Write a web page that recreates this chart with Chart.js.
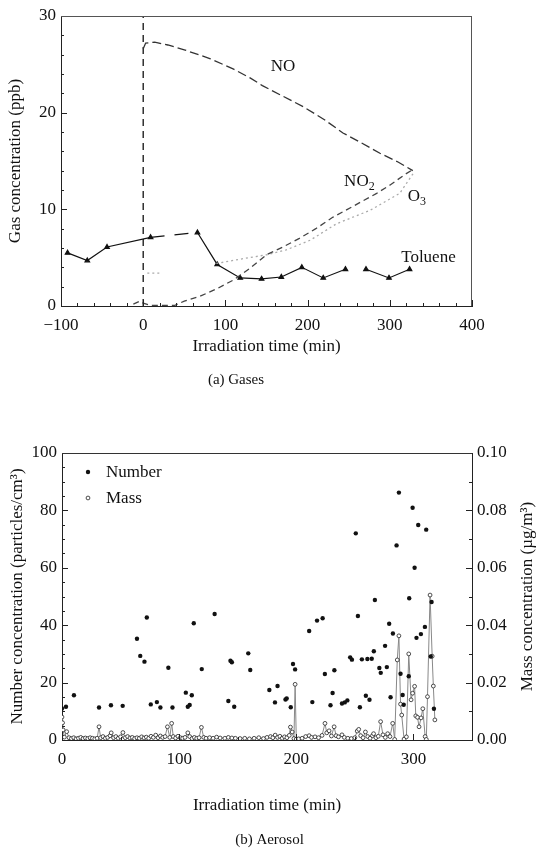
<!DOCTYPE html>
<html><head><meta charset="utf-8">
<script src="https://cdn.jsdelivr.net/npm/chart.js@4/dist/chart.umd.min.js"></script>
<style>
html,body{margin:0;padding:0;background:#fff;}
#wrap{position:relative;width:539px;height:854px;overflow:hidden;background:#fff;}
#c1{position:absolute;left:0;top:0;}
#c2{position:absolute;left:0;top:420px;}
</style></head><body>
<div id="wrap">
<canvas id="c1" width="539" height="400"></canvas>
<canvas id="c2" width="539" height="434"></canvas>
</div>
<script>
// ---------- (a) Gases ----------
const gasTimeTicks = [-100, 0, 100, 200, 300, 400];
const gasConcTicks = [0, 10, 20, 30];
const injectionTime = 0;
const injectionRange = [0, 30];

const noTime  = [0, 3, 14, 30, 50, 81, 110, 130, 145, 170, 195, 220, 243, 265, 288, 310, 328];
const noValue = [26.6, 27.2, 27.3, 27.0, 26.5, 25.6, 24.5, 23.6, 22.8, 21.7, 20.6, 19.3, 17.9, 16.9, 15.8, 14.9, 14.0];

const no2Time  = [-12, -4, 0, 10, 38, 50, 69, 90, 110, 130, 150, 170, 190, 210, 231, 255, 284, 300, 320, 330];
const no2Value = [0.2, 0.5, 0.3, 0.05, 0.05, 0.5, 1.0, 1.8, 2.7, 3.9, 5.3, 6.1, 7.0, 8.0, 9.2, 10.3, 11.65, 12.5, 13.7, 14.2];

const o3Time  = [5, 20, 50, 89, 122, 150, 174, 203, 235, 276, 312, 330];
const o3Value = [3.4, 3.4, null, 4.4, 4.9, 5.3, 5.8, 6.8, 8.5, 9.9, 11.65, 13.9];

const tolueneTime  = [-92, -68, -44, 9, 66, 90, 118, 144, 168, 193, 219, 246, 258, 271, 299, 324];
const tolueneValue = [5.5, 4.7, 6.1, 7.1, 7.6, 4.3, 2.9, 2.8, 3.0, 4.0, 2.9, 3.8, null, 3.8, 2.9, 3.8];

const gasLabels = [
  {text: 'NO', x: 170, y: 24.8},
  {text: 'NO', sub: '2', x: 263, y: 12.9},
  {text: 'O', sub: '3', x: 333, y: 11.3},
  {text: 'Toluene', x: 347, y: 5.0}
];

// ---------- (b) Aerosol ----------
const aeroTimeTicks = [0, 100, 200, 300];
const numberTicks = [0, 20, 40, 60, 80, 100];
const massTicks = [0, 0.02, 0.04, 0.06, 0.08, 0.10];

const numberTime = [0, 3.4, 10.2, 31.6, 41.8, 51.8, 64, 66.8, 70.4, 72.4, 75.8, 81, 84, 90.8, 94.3,
  105.7, 107.4, 109, 110.8, 112.5, 119.3, 130.3, 142, 143.8, 145, 147, 159, 160.7, 177, 181.8, 184,
  190.8, 191.8, 195.3, 197.2, 199, 211, 213.7, 217.7, 222.5, 224.4, 229.2, 231, 232.5, 239, 241.4,
  243.6, 246, 247.5, 250.8, 252.6, 254.3, 256, 259.4, 260.7, 262.5, 264.4, 266.2, 267.1, 270.9, 272.1,
  275.8, 277.3, 279.3, 280.5, 282.5, 285.6, 287.6, 289, 290.8, 291.7, 296, 296.4, 299.3, 301, 302.6,
  304.1, 306.4, 309.8, 310.9, 314.8, 315.5, 317.5];
const numberValue = [11.0, 11.6, 15.6, 11.3, 12.1, 11.9, 35.3, 29.3, 27.3, 42.7, 12.4, 13.2, 11.3, 25.2, 11.3,
  16.5, 11.6, 12.2, 15.6, 40.7, 24.7, 43.9, 13.6, 27.6, 27.1, 11.6, 30.2, 24.4, 17.4, 13.1, 18.8,
  14.1, 14.5, 11.4, 26.5, 24.6, 38.0, 13.2, 41.6, 42.4, 23.0, 12.1, 16.4, 24.3, 12.7, 13.1,
  13.8, 28.8, 28.0, 72.0, 43.2, 11.4, 28.1, 15.4, 28.2, 14.0, 28.3, 30.9, 48.8, 25.1, 23.4,
  32.8, 25.4, 40.5, 14.9, 37.1, 67.8, 86.2, 23.1, 15.7, 12.3, 22.2, 49.4, 80.9, 60.0, 35.6,
  74.9, 36.9, 39.4, 73.3, 29.1, 48.1, 10.9];

const massTime = [0, 0.5, 1, 2, 4, 6, 8, 10, 12, 14, 16, 18, 20, 22, 24, 26, 28, 30, 31.6, 33, 35, 37, 39, 41, 42,
  44, 46, 48, 50, 52, 54, 56, 58, 60, 62, 64, 66, 68, 70, 72, 74, 76, 78, 80, 82, 84, 86, 88, 90, 92, 93.6,
  95, 97, 99, 101, 103, 105, 107.4, 109, 111, 113, 115, 117, 119, 121, 123, 126, 129, 132, 135, 139, 142,
  145, 148, 152, 156, 160, 164, 168, 172, 175, 178, 180, 182, 184, 186, 188, 190, 192, 194, 195, 196.5,
  198, 199, 200, 202, 205, 208, 211, 213, 216, 219, 222, 224.5, 226, 228, 230, 232.3, 234, 236, 239, 241,
  244, 247, 250, 252, 253.3, 255, 257, 259, 261, 263, 265, 266, 268, 270, 272, 274, 276, 278, 280, 282.3,
  284, 286.2, 287.6, 289, 290, 292, 294, 296, 298, 299.3, 301, 302, 303.5, 304.8, 306.5, 308, 310, 311,
  312, 314.2, 316, 317, 318.3];
const massValue = [0.008, 0.006, 0.0035, 0.001, 0.0029, 0.0008, 0.0005, 0.0008, 0.0004, 0.0006, 0.0009, 0.0005,
  0.0007, 0.0005, 0.0008, 0.0006, 0.0004, 0.0006, 0.0046, 0.0008, 0.0012, 0.0006, 0.0009, 0.0015, 0.0025,
  0.0008, 0.0012, 0.0006, 0.0011, 0.0026, 0.0008, 0.0012, 0.0007, 0.0009, 0.0005, 0.0008, 0.0006, 0.0011,
  0.0007, 0.001, 0.0006, 0.0013, 0.0009, 0.0017, 0.0008, 0.0014, 0.0009, 0.0012, 0.0046, 0.0009, 0.0058,
  0.0012, 0.0007, 0.0013, 0.0008, 0.0006, 0.0009, 0.0025, 0.0012, 0.0005, 0.0009, 0.0006, 0.0008, 0.0044,
  0.0009, 0.0006, 0.0008, 0.0006, 0.001, 0.0007, 0.0006, 0.0009, 0.0007, 0.0006, 0.0005, 0.0006, 0.0004,
  0.0006, 0.0008, 0.0005, 0.0009, 0.0012, 0.0008, 0.0017, 0.0009, 0.0013, 0.0006, 0.0011, 0.0008, 0.0016,
  0.0045, 0.0028, 0.0005, 0.0194, 0.0003, 0.0004, 0.0006, 0.0012, 0.0015, 0.0009, 0.0011, 0.0008, 0.0016,
  0.0058, 0.0025, 0.0032, 0.0014, 0.0046, 0.0015, 0.0011, 0.0018, 0.0009, 0.0006, 0.0005, 0.0008, 0.0031,
  0.0037, 0.0015, 0.0008, 0.0028, 0.0012, 0.0006, 0.0015, 0.0022, 0.0008, 0.0013, 0.0064, 0.0018, 0.0009,
  0.0022, 0.0012, 0.0058, 0.0002, 0.0279, 0.0363, 0.0125, 0.0087, 0.0003, 0.0011, 0.0300, 0.0140, 0.0163,
  0.0187, 0.0084, 0.0079, 0.0046, 0.0077, 0.0109, 0.0012, 0.0002, 0.0151, 0.0505, 0.0292, 0.0188, 0.0070];

// ---------- helpers ----------
const FONT = '"Liberation Serif", "Times New Roman", serif';
Chart.defaults.font.family = FONT;
Chart.defaults.color = '#111';
const pts = (xs, ys) => xs.map((x, i) => ({x: x, y: ys[i]}));
const fmtMinus = v => v < 0 ? '\u2212' + Math.abs(v) : String(v);

const innerTicks = {
  id: 'innerTicks',
  afterDatasetsDraw(chart, args, opts) {
    const ctx = chart.ctx;
    ctx.save();
    ctx.strokeStyle = '#222';
    ctx.lineWidth = 1;
    (opts.axes || []).forEach(a => {
      const s = chart.scales[a.id];
      const n = Math.round((s.max - s.min) / a.minor);
      for (let i = 0; i <= n; i++) {
        const v = s.min + i * a.minor;
        const r = v / a.major;
        const major = Math.abs(r - Math.round(r)) < 1e-6;
        const len = major ? 6 : 3;
        const p = Math.round(s.getPixelForValue(v)) + 0.5;
        ctx.beginPath();
        if (s.isHorizontal()) { ctx.moveTo(p, s.top); ctx.lineTo(p, s.top - len); }
        else if (s.position === 'left') { ctx.moveTo(s.right, p); ctx.lineTo(s.right + len, p); }
        else { ctx.moveTo(s.left, p); ctx.lineTo(s.left - len, p); }
        ctx.stroke();
      }
    });
    ctx.restore();
  }
};

const frame = {
  id: 'frame',
  afterDatasetsDraw(chart, args, opts) {
    const {ctx, chartArea: a} = chart;
    ctx.save();
    ctx.strokeStyle = opts.color || '#333';
    ctx.lineWidth = 1;
    ctx.beginPath();
    if (opts.top) { ctx.moveTo(a.left, a.top + 0.5); ctx.lineTo(a.right, a.top + 0.5); }
    if (opts.right) { ctx.moveTo(a.right - 0.5, a.top); ctx.lineTo(a.right - 0.5, a.bottom); }
    ctx.stroke();
    ctx.restore();
  }
};

const seriesLabels = {
  id: 'seriesLabels',
  afterDatasetsDraw(chart, args, opts) {
    const ctx = chart.ctx, xs = chart.scales.x, ys = chart.scales.y;
    const size = opts.size || 16;
    ctx.save();
    ctx.fillStyle = '#111';
    ctx.textBaseline = 'middle';
    ctx.textAlign = 'left';
    (opts.items || []).forEach(it => {
      const px = xs.getPixelForValue(it.x), py = ys.getPixelForValue(it.y);
      ctx.font = size + 'px ' + FONT;
      const w = ctx.measureText(it.text).width;
      let sw = 0;
      if (it.sub) { ctx.font = Math.round(size * 0.7) + 'px ' + FONT; sw = ctx.measureText(it.sub).width; }
      const x0 = px - (w + sw) / 2;
      ctx.font = size + 'px ' + FONT;
      ctx.fillText(it.text, x0, py);
      if (it.sub) {
        ctx.font = Math.round(size * 0.7) + 'px ' + FONT;
        ctx.fillText(it.sub, x0 + w, py + size * 0.32);
      }
    });
    ctx.restore();
  }
};

const insideLegend = {
  id: 'insideLegend',
  afterDatasetsDraw(chart, args, opts) {
    const {ctx, chartArea: a} = chart;
    const size = opts.size || 17;
    ctx.save();
    ctx.textBaseline = 'middle';
    ctx.textAlign = 'left';
    ctx.font = size + 'px ' + FONT;
    chart.data.datasets.forEach((ds, i) => {
      const y = a.top + opts.top + i * opts.spacing;
      const x = a.left + opts.left;
      ctx.beginPath();
      ctx.arc(x, y, ds.pointRadius, 0, Math.PI * 2);
      ctx.fillStyle = ds.pointBackgroundColor;
      ctx.fill();
      if (ds.pointBorderWidth) { ctx.lineWidth = ds.pointBorderWidth; ctx.strokeStyle = ds.pointBorderColor; ctx.stroke(); }
      ctx.fillStyle = '#111';
      ctx.fillText(ds.label, x + opts.textGap, y + 1);
    });
    ctx.restore();
  }
};

const rightTitle = {
  id: 'rightTitle',
  afterDraw(chart, args, opts) {
    const {ctx, chartArea: a} = chart;
    ctx.save();
    ctx.translate(chart.width - opts.offset, (a.top + a.bottom) / 2);
    ctx.rotate(-Math.PI / 2);
    ctx.textAlign = 'center';
    ctx.textBaseline = 'middle';
    ctx.fillStyle = '#111';
    ctx.font = opts.size + 'px ' + FONT;
    ctx.fillText(opts.text, 0, 0);
    ctx.restore();
  }
};

const tickFont = {size: 17};
const titleFont = {size: 17};

// ---------- chart (a) ----------
new Chart(document.getElementById('c1'), {
  type: 'line',
  data: {datasets: [
    {label: 'NO', data: pts(noTime, noValue), borderColor: '#333', borderWidth: 1.3, borderDash: [9, 4], pointRadius: 0},
    {label: 'NO2', data: pts(no2Time, no2Value), borderColor: '#444', borderWidth: 1.3, borderDash: [6, 4], pointRadius: 0},
    {label: 'O3', data: pts(o3Time, o3Value), borderColor: '#aaa', borderWidth: 1.3, borderDash: [2, 3], pointRadius: 0, spanGaps: false},
    {label: 'Toluene', data: pts(tolueneTime, tolueneValue), borderColor: '#111', borderWidth: 1.2,
      pointStyle: 'triangle', pointRadius: 2.6, pointBackgroundColor: '#111', pointBorderColor: '#111', spanGaps: false,
      segment: {borderDash: c => c.p0DataIndex === 3 ? [14, 10] : undefined}},
    {label: 'Injection', data: pts([injectionTime, injectionTime], injectionRange), borderColor: '#111', borderWidth: 1.3, borderDash: [7, 5], pointRadius: 0}
  ]},
  options: {
    responsive: false, animation: false,
    layout: {padding: {top: 16, right: 67, left: 0, bottom: 0}},
    plugins: {
      legend: {display: false}, tooltip: {enabled: false},
      title: {display: true, position: 'bottom', text: '(a) Gases', font: {size: 15, weight: 'normal'}, color: '#111', padding: {top: 14, bottom: 11}},
      innerTicks: {axes: [{id: 'x', minor: 20, major: 100}, {id: 'y', minor: 2, major: 10}]},
      frame: {top: true, right: true, color: '#555'},
      seriesLabels: {items: gasLabels, size: 17}
    },
    scales: {
      x: {type: 'linear', min: -100, max: 400,
        afterBuildTicks: s => { s.ticks = gasTimeTicks.map(v => ({value: v})); },
        ticks: {font: tickFont, color: '#111', padding: 9, maxRotation: 0, callback: fmtMinus},
        grid: {display: false, drawTicks: false}, border: {color: '#222', width: 1},
        title: {display: true, text: 'Irradiation time (min)', font: titleFont, color: '#111', padding: {top: 0, bottom: 0}},
        afterFit: s => { s.height = 51; }},
      y: {type: 'linear', min: 0, max: 30,
        afterBuildTicks: s => { s.ticks = gasConcTicks.map(v => ({value: v})); },
        ticks: {font: tickFont, color: '#111', padding: 5},
        grid: {display: false, drawTicks: false}, border: {color: '#222', width: 1},
        title: {display: true, text: 'Gas concentration (ppb)', font: titleFont, color: '#111', padding: {top: 5, bottom: 0}},
        afterFit: s => { s.width = 61; }}
    }
  },
  plugins: [innerTicks, frame, seriesLabels]
});

// ---------- chart (b) ----------
new Chart(document.getElementById('c2'), {
  type: 'line',
  data: {datasets: [
    {label: 'Number', data: pts(numberTime, numberValue), yAxisID: 'y', showLine: false, order: 0,
      pointRadius: 2.2, pointBackgroundColor: '#111', pointBorderColor: '#111', pointBorderWidth: 0, backgroundColor: '#111', borderColor: '#111'},
    {label: 'Mass', data: pts(massTime, massValue), yAxisID: 'y2', order: 1,
      borderColor: '#888', borderWidth: 1, pointRadius: 1.9, pointBackgroundColor: '#fff', pointBorderColor: '#222', pointBorderWidth: 0.8}
  ]},
  options: {
    responsive: false, animation: false,
    layout: {padding: {top: 33, right: 0, left: 0, bottom: 0}},
    plugins: {
      legend: {display: false}, tooltip: {enabled: false},
      title: {display: true, position: 'bottom', text: '(b) Aerosol', font: {size: 15, weight: 'normal'}, color: '#111', padding: {top: 15, bottom: 5}},
      innerTicks: {axes: [{id: 'x', minor: 50, major: 100}, {id: 'y', minor: 5, major: 20}, {id: 'y2', minor: 0.01, major: 0.02}]},
      frame: {top: true, right: false, color: '#333'},
      insideLegend: {size: 17, left: 26, top: 19, spacing: 26, textGap: 18},
      rightTitle: {text: 'Mass concentration (\u00b5g/m\u00b3)', size: 17, offset: 11}
    },
    scales: {
      x: {type: 'linear', min: 0, max: 350,
        afterBuildTicks: s => { s.ticks = aeroTimeTicks.map(v => ({value: v})); },
        ticks: {font: tickFont, color: '#111', padding: 9, maxRotation: 0},
        grid: {display: false, drawTicks: false}, border: {color: '#222', width: 1},
        title: {display: true, text: 'Irradiation time (min)', font: titleFont, color: '#111', padding: {top: 0, bottom: 0}},
        afterFit: s => { s.height = 76; }},
      y: {type: 'linear', position: 'left', min: 0, max: 100,
        afterBuildTicks: s => { s.ticks = numberTicks.map(v => ({value: v})); },
        ticks: {font: tickFont, color: '#111', padding: 5},
        grid: {display: false, drawTicks: false}, border: {color: '#222', width: 1},
        title: {display: true, text: 'Number concentration (particles/cm\u00b3)', font: titleFont, color: '#111', padding: {top: 7, bottom: 0}},
        afterFit: s => { s.width = 62; }},
      y2: {type: 'linear', position: 'right', min: 0, max: 0.1,
        afterBuildTicks: s => { s.ticks = massTicks.map(v => ({value: v})); },
        ticks: {font: tickFont, color: '#111', padding: 5, callback: v => v.toFixed(2)},
        grid: {display: false, drawTicks: false}, border: {color: '#222', width: 1},
        afterFit: s => { s.width = 67; }}
    }
  },
  plugins: [innerTicks, frame, insideLegend, rightTitle]
});
</script>
</body></html>
